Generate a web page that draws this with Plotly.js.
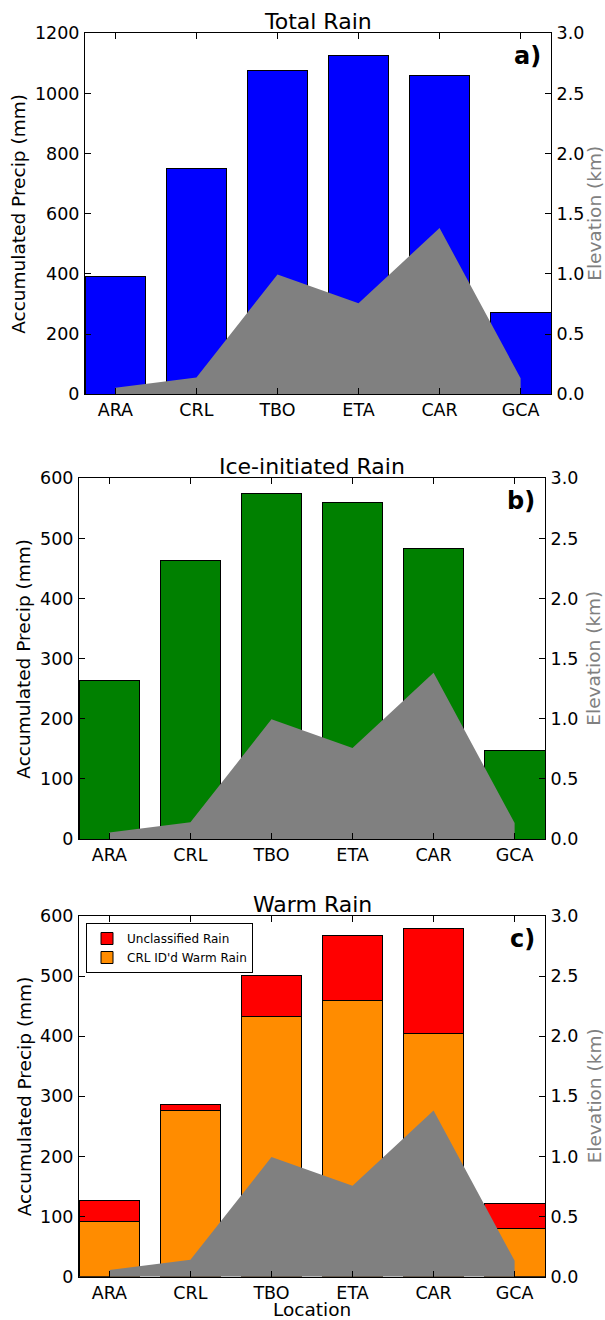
<!DOCTYPE html>
<html>
<head>
<meta charset="utf-8">
<script src="https://cdn.plot.ly/plotly-3.0.1.min.js"></script>
<style>html,body{margin:0;padding:0;background:#fff;}#chart{width:605px;height:1320px;}</style>
</head>
<body>
<div id="chart"></div>
<script>
// ---- data ----
const locations = ["ARA", "CRL", "TBO", "ETA", "CAR", "GCA"];
const elevationKm = [0.055, 0.14, 0.995, 0.757, 1.382, 0.133];
const totalRain = [392, 749, 1075, 1127, 1061, 271];
const iceRain = [264, 464, 575, 560, 484, 148];
const warmRainCRL = [92, 277, 433, 459, 404, 80];
const warmRainUnclassified = [35.5, 9, 68, 109, 175, 42];
const panelTitles = ["Total Rain", "Ice-initiated Rain", "Warm Rain"];
const panelLabels = ["a)", "b)", "c)"];

const W = 605, H = 1320;
const FONT = "DejaVu Sans, sans-serif";
const px = v => v / W;
const py = v => 1 - v / H;

// panel pixel boxes [left, right, top, bottom]
const boxes = [[85, 551, 33.3, 394.3], [79, 545, 478.3, 839], [79, 545, 916, 1276.7]];
const leftTitleOffset = [66, 55, 55];
const rightTitleX = [595, 594, 594];

const barLine = {color: "#000", width: 1};
const traces = [];
traces.push({type: "bar", x: locations, y: totalRain, xaxis: "x", yaxis: "y",
  marker: {color: "#0000ff", line: barLine}, width: 0.75, showlegend: false});
traces.push({type: "bar", x: locations, y: iceRain, xaxis: "x2", yaxis: "y3",
  marker: {color: "#008000", line: barLine}, width: 0.75, showlegend: false});
traces.push({type: "bar", x: locations, y: warmRainCRL, xaxis: "x3", yaxis: "y5",
  name: "CRL ID'd Warm Rain", marker: {color: "#ff8c00", line: barLine}, width: 0.75});
traces.push({type: "bar", x: locations, y: warmRainUnclassified, xaxis: "x3", yaxis: "y5",
  name: "Unclassified Rain", marker: {color: "#ff0000", line: barLine}, width: 0.75});

const elevAxes = [["x", "y2"], ["x2", "y4"], ["x3", "y6"]];
elevAxes.forEach(([xa, ya]) => {
  traces.push({type: "scatter", mode: "lines", x: locations, y: elevationKm, xaxis: xa, yaxis: ya,
    fill: "tozeroy", fillcolor: "#808080", line: {color: "#808080", width: 0}, showlegend: false});
});

const tickFont = {family: FONT, size: 17.5, color: "#000"};
function xAxis(i) {
  const b = boxes[i];
  return {domain: [px(b[0]), px(b[1])], anchor: ["y", "y3", "y5"][i], type: "category",
    range: [-0.375, 5.375], showline: true, linecolor: "#000", linewidth: 1, mirror: "ticks",
    ticks: "inside", ticklen: 6, tickcolor: "#000", showgrid: false, zeroline: false,
    tickfont: tickFont, fixedrange: true};
}
function yAxis(i, max, dtick) {
  const b = boxes[i];
  return {domain: [py(b[3]), py(b[2])], anchor: ["x", "x2", "x3"][i], range: [0, max], dtick: dtick,
    showline: true, linecolor: "#000", linewidth: 1, ticks: "inside", ticklen: 6, tickcolor: "#000",
    showgrid: false, zeroline: false, tickfont: tickFont, ticklabelstandoff: 1};
}
function y2Axis(i, over) {
  return {overlaying: over, side: "right", anchor: ["x", "x2", "x3"][i], range: [0, 3], dtick: 0.5,
    tickformat: ".1f", showline: true, linecolor: "#000", linewidth: 1, ticks: "inside", ticklen: 6,
    tickcolor: "#000", showgrid: false, zeroline: false, tickfont: tickFont, ticklabelstandoff: 1};
}

const annotations = [];
boxes.forEach((b, i) => {
  const cx = (b[0] + b[1]) / 2;
  annotations.push({text: panelTitles[i], xref: "paper", yref: "paper", x: px(cx), y: py(b[2] - 12),
    xanchor: "center", yanchor: "middle", showarrow: false, font: {family: FONT, size: 22, color: "#000"}});
  annotations.push({text: "<b>" + panelLabels[i] + "</b>", xref: "paper", yref: "paper", x: px(b[1] - 8),
    y: py(b[2] + 23), xanchor: "right", yanchor: "middle", showarrow: false,
    font: {family: FONT, size: 24, color: "#000"}});
  annotations.push({text: "Accumulated Precip (mm)", xref: "paper", yref: "paper", x: px(b[0] - leftTitleOffset[i]),
    y: py((b[2] + b[3]) / 2), xanchor: "center", yanchor: "middle", textangle: -90, showarrow: false,
    font: {family: FONT, size: 18.5, color: "#000"}});
  annotations.push({text: "Elevation (km)", xref: "paper", yref: "paper", x: px(rightTitleX[i]),
    y: py((b[2] + b[3]) / 2), xanchor: "center", yanchor: "middle", textangle: -90, showarrow: false,
    font: {family: FONT, size: 18.5, color: "#808080"}});
});
annotations.push({text: "Location", xref: "paper", yref: "paper", x: px((boxes[2][0] + boxes[2][1]) / 2),
  y: py(1309), xanchor: "center", yanchor: "middle", showarrow: false,
  font: {family: FONT, size: 18.5, color: "#000"}});

const layout = {
  width: W, height: H, margin: {l: 0, r: 0, t: 0, b: 0},
  paper_bgcolor: "#fff", plot_bgcolor: "#fff", barmode: "stack", bargap: 0.25,
  font: {family: FONT, color: "#000"},
  xaxis: xAxis(0), xaxis2: xAxis(1), xaxis3: xAxis(2),
  yaxis: yAxis(0, 1200, 200), yaxis2: y2Axis(0, "y"),
  yaxis3: yAxis(1, 600, 100), yaxis4: y2Axis(1, "y3"),
  yaxis5: yAxis(2, 600, 100), yaxis6: y2Axis(2, "y5"),
  legend: {x: px(86), y: py(923), xanchor: "left", yanchor: "top", traceorder: "reversed",
    bgcolor: "#fff", bordercolor: "#000", borderwidth: 1, font: {family: FONT, size: 12, color: "#000"},
    tracegroupgap: 0, itemwidth: 30},
  annotations: annotations
};

Plotly.newPlot("chart", traces, layout, {staticPlot: true});
</script>
</body>
</html>
